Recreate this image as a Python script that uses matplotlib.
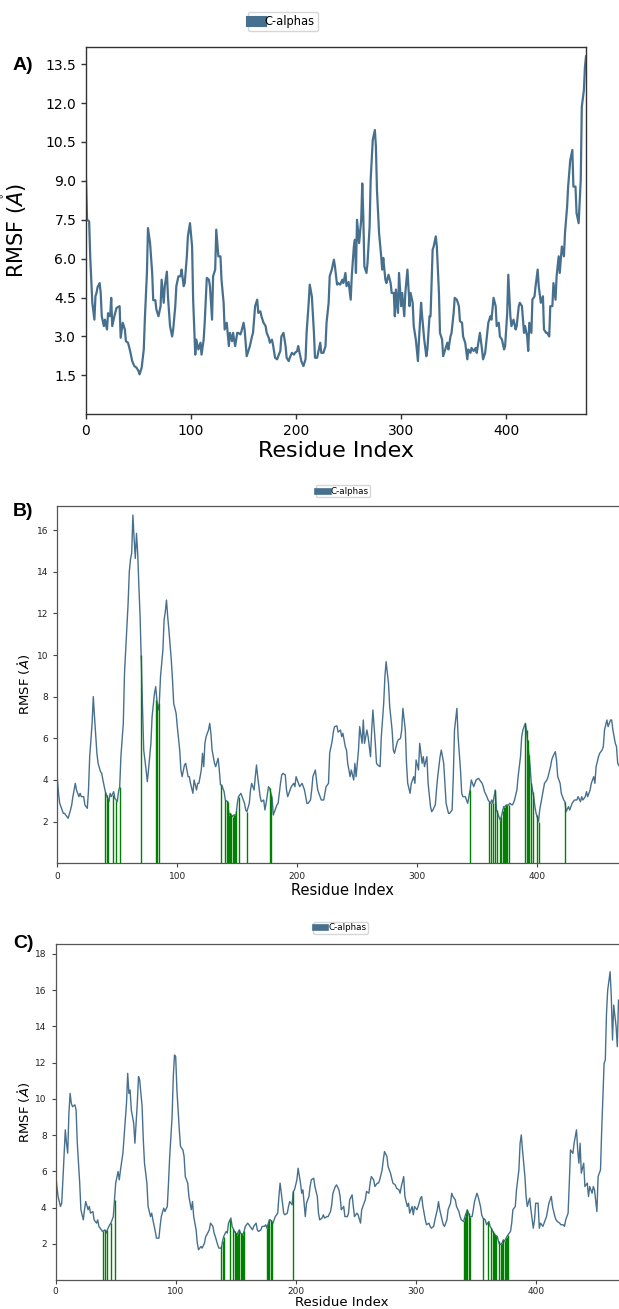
import matplotlib
matplotlib.use("Agg")
import matplotlib.pyplot as plt
from matplotlib.lines import Line2D

# ---------------- data ----------------
a_res = [0,1,3,4,6,8,9,10,11,13,14,15,17,18,20,21,23,24,25,27,29,32,33,35,37,38,40,42,44,46,48,50,51,53,55,56,58,59,61,63,64,66,67,69,71,72,74,75,77,78,80,82,83,85,86,88,90,91,93,94,96,97,99,101,102,104,105,107,109,110,112,113,115,117,118,120,121,123,124,126,128,129,131,132,134,136,137,139,140,142,144,145,147,148,150,151,153,155,156,158,159,161,163,164,166,167,169,171,172,174,175,177,178,180,182,183,185,186,188,190,191,193,194,196,198,199,201,202,204,205,207,209,210,212,213,215,217,218,220,221,223,224,226,228,229,231,232,234,236,237,239,240,242,244,245,247,248,250,252,253,255,256,257,258,260,262,263,264,265,267,268,270,271,273,275,276,277,279,281,282,283,285,286,288,290,291,293,294,295,297,298,300,301,303,304,306,308,309,311,312,314,316,317,319,320,322,324,325,327,328,330,331,333,334,336,337,339,340,342,344,345,347,348,350,351,353,355,356,358,359,361,363,364,366,367,369,371,372,374,375,377,378,380,382,383,385,386,388,390,391,393,394,396,398,399,401,402,404,405,407,409,410,412,413,415,417,418,420,421,422,424,425,427,428,430,431,433,435,436,438,439,441,442,444,445,447,448,450,451,453,455,456,458,459,461,463,464,466,467,469,471,472,474,475,476]
a_rmsf = [9.04,7.5,7.44,6.09,4.3,3.65,4.55,4.68,4.9,5.06,4.68,3.78,3.4,3.65,3.27,3.9,3.78,4.49,3.4,3.78,4.1,4.17,2.95,3.53,3.27,2.82,2.76,2.44,2.05,1.86,1.8,1.67,1.54,1.8,2.5,3.65,5.45,7.18,6.6,5.45,4.4,4.4,4.04,3.78,4.17,5.19,4.3,4.94,5.5,4.55,3.4,3.0,3.27,4.17,4.94,5.32,5.32,5.58,4.94,5.06,6.09,6.86,7.37,6.47,4.42,2.3,2.88,2.5,2.76,2.3,2.88,3.53,5.26,5.19,4.94,3.65,5.32,5.58,7.12,6.09,6.09,5.19,4.3,3.27,3.53,2.63,3.14,2.82,3.14,2.63,3.14,3.14,3.08,3.2,3.53,3.27,2.24,2.5,2.63,3.0,3.14,4.17,4.42,3.91,3.97,3.78,3.53,3.4,3.14,2.95,2.76,2.88,2.69,2.18,2.12,2.24,2.44,3.0,3.14,2.63,2.18,2.05,2.18,2.37,2.3,2.37,2.44,2.63,2.24,2.05,1.86,2.12,3.14,4.3,5.0,4.55,3.14,2.18,2.18,2.37,2.76,2.37,2.37,2.63,3.53,4.3,5.32,5.58,5.96,5.7,5.0,5.06,5.0,5.19,5.06,5.45,4.94,5.1,4.42,5.32,6.47,6.73,5.45,7.5,6.6,7.5,8.9,7.63,5.7,5.45,5.83,7.24,9.04,10.58,10.96,10.32,8.65,6.99,6.09,5.58,6.03,5.19,5.06,5.38,5.06,4.68,4.68,3.78,4.81,3.91,5.45,4.17,4.68,3.78,4.68,5.58,4.17,4.68,4.3,3.4,2.88,2.05,2.88,4.3,3.78,2.88,2.24,2.5,3.78,3.78,6.35,6.47,6.86,6.47,4.68,3.14,2.88,2.24,2.5,2.76,2.5,3.0,3.14,3.91,4.49,4.42,4.17,3.59,3.53,3.0,2.76,2.12,2.5,2.37,2.56,2.44,2.56,2.37,2.88,3.14,2.5,2.12,2.37,3.14,3.53,3.78,3.65,4.49,4.17,3.4,3.53,3.0,2.88,2.5,2.63,3.91,5.38,3.78,3.4,3.65,3.27,3.4,4.17,4.3,4.17,3.14,3.4,3.0,2.44,3.53,3.14,4.42,4.55,4.94,5.58,4.94,4.3,4.55,3.27,3.14,3.14,3.0,4.17,4.17,5.06,4.42,5.32,6.09,5.45,6.47,6.09,6.99,8.0,8.78,9.8,10.19,8.78,8.78,7.76,7.37,9.04,11.86,12.5,13.4,13.8]

b_res = [0,1,2,4,5,6,8,9,11,12,13,15,16,18,19,20,22,23,25,26,27,29,30,31,33,34,36,37,38,40,41,43,44,45,47,48,50,51,52,53,55,56,57,59,60,61,62,63,64,65,66,67,68,69,70,71,72,74,75,76,78,79,81,82,83,84,85,86,88,89,90,91,92,93,95,96,97,99,100,102,103,104,106,107,109,110,111,113,114,116,117,118,120,121,122,123,124,126,127,128,129,131,132,134,135,136,137,139,140,142,143,144,146,147,149,150,151,153,154,156,157,158,160,161,162,164,165,166,167,169,170,172,173,174,176,177,179,180,181,183,184,186,187,188,190,191,192,194,195,197,198,199,201,202,204,205,206,208,209,211,212,213,215,216,217,219,220,222,223,224,226,227,229,230,231,233,234,236,237,238,240,241,242,244,245,247,248,249,251,252,254,255,256,258,259,261,262,263,265,266,267,269,270,272,273,274,276,277,279,280,281,283,284,286,287,288,290,291,292,294,295,297,298,299,301,302,304,305,306,308,309,311,312,313,315,316,317,319,320,322,323,324,326,327,329,330,331,333,334,336,337,338,340,341,342,344,345,347,348,349,351,352,354,355,356,358,359,361,362,363,365,366,367,369,370,372,373,374,376,377,379,380,381,383,384,386,387,388,390,391,392,394,395,397,398,399,401,402,404,405,406,408,409,411,412,413,415,416,417,419,420,422,423,424,426,427,429,430,431,433,434,436,437,438,440,441,442,444,445,447,448,449,451,452,454,455,456,458,459,461,462,463,465,466,467,469,470]
b_rmsf = [4.08,3.36,2.88,2.56,2.4,2.4,2.24,2.16,2.56,2.8,3.2,3.84,3.52,3.2,3.36,3.2,3.2,2.8,2.64,3.52,5.12,6.72,8.0,7.04,5.28,4.8,4.4,4.32,4.0,3.44,3.28,2.96,3.36,3.2,3.44,3.12,2.96,3.44,3.68,5.12,6.72,9.12,10.24,12.48,14.0,14.6,14.9,16.72,15.6,14.64,15.84,14.88,13.28,11.84,9.6,7.52,5.44,4.48,3.92,4.48,5.76,7.04,8.16,8.48,7.84,7.36,7.68,8.96,10.24,11.68,12.08,12.64,11.84,11.2,9.76,8.8,7.68,7.2,6.56,5.44,4.48,4.16,4.72,4.8,4.16,4.16,3.84,3.36,4.0,3.52,3.84,3.84,4.48,5.28,4.64,5.76,6.08,6.4,6.72,6.24,5.44,4.8,4.64,5.04,4.48,3.76,3.76,3.44,3.04,2.96,2.32,2.4,2.24,2.32,2.32,2.88,3.2,3.36,3.2,2.88,2.56,2.48,2.88,3.52,3.84,3.52,4.16,4.72,4.16,3.2,2.96,3.04,2.56,2.88,3.68,3.6,3.12,2.32,2.48,2.8,2.88,3.84,4.24,4.32,4.24,3.52,3.2,3.52,3.68,3.84,3.68,4.16,3.84,3.68,3.84,3.68,3.52,2.88,2.88,3.04,3.52,4.16,4.48,4.0,3.52,3.2,3.04,3.04,3.36,3.68,3.84,5.3,5.85,6.3,6.56,6.6,6.3,6.4,6.08,6.24,5.6,5.44,4.8,4.16,4.48,4.0,4.8,4.16,5.44,6.56,5.76,6.88,5.76,6.4,6.08,5.12,6.4,7.36,5.76,4.8,4.72,4.64,6.08,7.68,8.96,9.68,8.64,7.52,6.4,5.44,5.28,5.76,5.92,6.0,6.4,7.44,6.4,4.8,3.84,3.36,3.84,4.16,3.84,4.96,4.48,5.76,4.8,5.12,4.64,5.12,3.84,2.72,2.48,2.56,2.8,3.52,4.16,5.12,5.44,4.8,3.84,2.88,2.4,2.4,2.56,4.16,6.4,7.44,6.08,4.48,3.36,3.2,3.2,3.04,2.88,3.52,4.0,3.68,3.84,4.0,4.08,4.0,3.84,3.68,3.44,3.2,3.04,2.88,3.04,2.88,3.52,2.56,2.4,2.08,2.24,2.72,2.72,2.8,2.8,2.88,2.8,2.88,3.04,3.52,4.16,5.12,6.08,6.4,6.72,6.4,5.76,4.64,3.84,3.2,2.72,2.4,2.0,2.56,3.2,3.52,3.84,4.0,4.16,4.64,4.96,5.12,5.36,4.96,4.16,3.84,3.36,3.04,2.96,2.48,2.72,2.56,2.88,2.96,3.04,3.04,3.2,2.96,3.2,3.04,3.2,3.44,3.2,3.52,3.84,4.16,3.84,4.64,5.12,5.28,5.44,5.6,6.4,6.88,6.56,6.88,6.88,6.4,5.76,5.6,4.8,4.6,4.5]

c_res = [0,1,2,4,5,6,8,9,10,11,12,13,14,16,17,18,20,21,23,24,25,27,28,29,31,32,34,35,36,38,39,41,42,43,45,46,48,49,50,52,53,54,56,57,59,60,61,62,63,65,66,68,69,70,72,73,74,76,77,79,80,81,83,84,86,87,88,90,91,93,94,95,97,98,99,100,101,103,104,106,107,108,110,111,113,114,115,117,118,119,121,122,124,125,126,128,129,131,132,133,135,136,138,139,140,142,143,144,146,147,149,150,151,153,154,156,157,158,160,161,163,164,165,167,168,169,171,172,174,175,176,178,179,181,182,183,185,186,187,188,190,191,193,194,195,197,198,199,201,202,204,205,206,208,209,211,212,213,215,216,218,219,220,222,223,224,226,227,229,230,231,233,234,236,237,238,240,241,243,244,245,247,248,249,251,252,254,255,256,258,259,261,262,263,265,266,268,269,270,272,273,274,276,277,279,280,281,283,284,286,287,288,290,291,293,294,295,297,298,299,301,302,304,305,306,308,309,311,312,313,315,316,318,319,320,322,323,324,326,327,329,330,331,333,334,336,337,338,340,341,343,344,345,347,348,349,351,352,354,355,356,358,359,361,362,363,365,366,368,369,370,372,373,374,376,377,379,380,381,383,384,386,387,388,389,391,392,393,395,396,398,399,400,402,403,404,406,407,409,410,411,413,414,416,417,418,420,421,423,424,425,427,428,429,431,432,434,435,436,437,438,440,441,443,444,445,447,448,449,451,452,454,455,456,457,458,459,460,462,463,464,465,467,468,469,470]
c_rmsf = [5.9,5.16,4.6,4.06,4.24,5.53,8.29,7.55,7.0,9.2,10.3,9.76,9.57,9.67,9.39,7.55,5.35,3.88,3.32,3.88,4.33,3.88,4.06,3.69,3.78,3.32,3.14,3.32,2.96,2.77,2.68,2.77,2.59,2.77,3.05,3.14,3.5,4.43,5.35,5.99,5.53,6.08,7.0,7.92,9.76,11.41,10.3,10.49,9.39,8.65,7.55,9.76,11.23,11.04,9.57,7.74,6.45,5.35,4.06,3.5,3.69,3.32,2.68,2.31,2.31,2.96,3.5,3.97,3.78,4.06,5.35,6.82,9.02,11.23,12.42,12.33,10.49,8.29,7.37,7.18,6.82,5.71,5.35,4.61,3.88,4.33,3.5,2.77,2.04,1.67,1.85,1.76,2.04,2.4,2.5,2.77,3.14,2.96,2.59,2.4,1.94,1.76,1.76,2.13,2.4,2.68,2.59,3.14,3.42,2.96,2.68,2.59,2.5,2.77,2.59,2.5,2.68,2.96,3.14,3.05,2.86,2.77,2.96,3.14,2.77,2.68,2.77,2.96,2.96,3.05,2.86,3.32,3.32,3.14,3.32,3.5,3.69,4.61,5.35,4.79,3.69,3.6,3.69,4.06,4.33,4.15,4.89,4.98,5.53,6.17,5.35,4.79,4.98,3.5,4.24,4.61,5.16,5.53,5.62,5.16,4.61,3.69,3.32,3.42,3.6,3.42,3.5,3.5,3.78,4.15,4.79,5.16,5.25,4.98,4.61,3.88,4.06,3.5,3.5,3.69,4.43,4.7,4.06,3.5,3.69,3.6,3.14,3.88,4.06,4.43,4.89,4.79,5.35,5.71,5.53,5.16,5.35,5.35,5.53,6.08,6.63,7.09,6.82,6.26,5.9,5.62,5.35,5.25,5.07,4.98,4.79,5.16,5.71,4.61,4.06,4.24,3.69,4.06,3.6,4.06,3.88,4.06,4.52,4.61,4.06,3.32,3.05,3.14,2.96,2.86,2.96,3.32,3.88,4.33,3.88,3.32,3.05,2.96,3.32,3.88,4.24,4.79,4.61,4.43,4.06,3.78,3.5,3.32,3.23,3.5,3.88,3.69,3.5,3.5,3.88,4.33,4.79,4.61,4.06,3.6,3.42,3.32,3.05,3.23,2.96,2.86,2.59,2.5,2.4,2.13,1.94,2.04,2.22,2.13,2.4,2.5,2.68,3.14,3.88,4.06,4.98,6.08,7.55,8.01,7.18,5.71,4.61,4.06,4.52,3.88,2.86,3.32,4.24,4.24,2.86,3.14,2.96,3.14,3.5,3.88,4.24,4.61,4.06,3.5,3.32,3.23,3.14,3.05,3.05,2.96,3.32,3.69,5.35,7.18,6.99,7.55,8.29,7.18,6.45,7.55,5.9,6.45,5.16,5.35,4.61,5.16,4.79,5.16,4.98,3.78,5.71,6.08,8.29,10.13,11.96,12.15,14.72,16.0,17.02,15.64,13.25,15.18,13.99,12.88,15.46,15.0]

# binding-site residues (green bars) and their RMSF heights
b_site = [40,41,42,46,49,52,70,82,83,85,136,140,141,142,143,144,145,146,147,148,149,151,158,177,178,344,360,361,363,365,366,369,370,371,372,373,374,375,376,390,391,392,393,395,396,400,401,423]
b_site_rmsf = [3.44,3.28,3.1,3.3,3.0,3.68,10.0,7.84,7.6,7.68,3.76,3.04,3.0,2.96,2.32,2.4,2.3,2.24,2.32,2.32,2.5,3.2,2.48,3.6,3.3,3.52,2.96,2.88,2.88,3.52,2.56,2.08,2.24,2.5,2.72,2.72,2.8,2.8,2.8,6.72,6.4,5.9,5.2,3.84,3.4,2.3,2.0,2.96]
c_site = [39,41,43,46,49,138,139,140,145,148,149,150,151,152,153,154,155,156,157,176,177,178,179,180,198,340,341,342,343,344,345,356,360,363,364,365,366,367,369,371,372,373,374,375,376,377]
c_site_rmsf = [2.68,2.77,2.77,3.14,4.43,1.9,2.13,2.4,3.3,2.8,2.68,2.59,2.5,2.6,2.77,2.59,2.55,2.5,2.68,2.86,3.1,3.32,3.32,3.2,4.89,3.23,3.5,3.7,3.88,3.69,3.5,3.42,3.2,2.86,2.7,2.59,2.5,2.45,2.13,2.0,2.04,2.22,2.13,2.3,2.4,2.5]

a_yticks = [1.5, 3.0, 4.5, 6.0, 7.5, 9.0, 10.5, 12.0, 13.5]
bc_xticks = [0, 100, 200, 300, 400]
b_yticks = [2, 4, 6, 8, 10, 12, 14, 16]
c_yticks = [2, 4, 6, 8, 10, 12, 14, 16, 18]
legend_label = "C-alphas"
xlabel = "Residue Index"
ylabel = r"RMSF ($\mathring{A}$)"

# ---------------- style ----------------
LINE = "#47708e"
GREEN = "#008000"
W, H = 619, 1309
fig = plt.figure(figsize=(W / 100, H / 100), dpi=100)
plt.rcParams['font.family'] = ['DejaVu Sans']


def px_axes(left, top, right, bottom):
    return fig.add_axes([left / W, 1 - bottom / H, (right - left) / W, (bottom - top) / H])


def add_legend(cx, cy, fs, lw, hl, htp, bp):
    h = Line2D([], [], color=LINE, lw=lw, solid_capstyle='projecting')
    fig.legend(handles=[h], labels=[legend_label], loc='center',
               bbox_to_anchor=(cx / W, 1 - cy / H), bbox_transform=fig.transFigure,
               fontsize=fs, handlelength=hl, handletextpad=htp, borderpad=bp,
               framealpha=0.8, edgecolor='0.8', fancybox=True)


# ---------- Panel A ----------
axA = px_axes(86, 47.3, 586, 414.3)
axA.plot(a_res, a_rmsf, color=LINE, lw=1.6)
axA.set_xlim(0, 476)
axA.set_ylim(0, 14.15)
axA.set_yticks(a_yticks)
axA.set_yticklabels([f"{v:.1f}" for v in a_yticks])
axA.set_xticks(bc_xticks)
axA.tick_params(labelsize=10, length=3.5, width=1, color='#333333')
for s in axA.spines.values():
    s.set_color('#333333'); s.set_linewidth(1.0)
axA.set_xlabel(xlabel, fontsize=16, labelpad=2)
axA.set_ylabel(ylabel, fontsize=15)
axA.yaxis.set_label_coords(-0.115, 0.5)
add_legend(283, 21.5, 8.3, 8, 0.9, 0.3, 0.25)
fig.text(13 / W, 1 - 65 / H, "A)", fontsize=14, fontweight='bold',
         family='Liberation Sans', ha='left', va='center')

# ---------- Panel B ----------
axB = px_axes(57.3, 505.7, 57.3 + 571.2, 863.3)
axB.plot(b_res, b_rmsf, color=LINE, lw=1.0, zorder=2)
axB.vlines(b_site, 0, b_site_rmsf, color=GREEN, lw=1.0, zorder=3)
axB.set_xlim(0, 476)
axB.set_ylim(0, 17.17)
axB.set_yticks(b_yticks)
axB.set_xticks(bc_xticks)
axB.tick_params(labelsize=6.5, length=3, width=0.8, color='#444444', labelcolor='#222222')
for s in axB.spines.values():
    s.set_color('#555555'); s.set_linewidth(0.9)
axB.set_xlabel(xlabel, fontsize=10.5, labelpad=1)
axB.set_ylabel(ylabel, fontsize=9.5)
axB.yaxis.set_label_coords(-0.043, 0.5)
add_legend(343, 491.3, 6.3, 4.8, 1.2, 0.38, 0.15)
fig.text(13 / W, 1 - 511 / H, "B)", fontsize=14, fontweight='bold',
         family='Liberation Sans', ha='left', va='center')

# ---------- Panel C ----------
axC = px_axes(55.7, 944, 55.7 + 571.2, 1280)
axC.plot(c_res, c_rmsf, color=LINE, lw=1.0, zorder=2)
axC.vlines(c_site, 0, c_site_rmsf, color=GREEN, lw=1.0, zorder=3)
axC.set_xlim(0, 476)
axC.set_ylim(0, 18.55)
axC.set_yticks(c_yticks)
axC.set_xticks(bc_xticks)
axC.tick_params(labelsize=6.5, length=3, width=0.8, color='#444444', labelcolor='#222222')
axC.tick_params(axis='x', pad=2)
for s in axC.spines.values():
    s.set_color('#555555'); s.set_linewidth(0.9)
axC.set_xlabel(xlabel, fontsize=9.5, labelpad=0)
axC.set_ylabel(ylabel, fontsize=9.5)
axC.yaxis.set_label_coords(-0.04, 0.5)
add_legend(340.5, 927.7, 6.3, 4.8, 1.2, 0.38, 0.15)
fig.text(13 / W, 1 - 943 / H, "C)", fontsize=14, fontweight='bold',
         family='Liberation Sans', ha='left', va='center')

fig.savefig("out.png", dpi=100)
